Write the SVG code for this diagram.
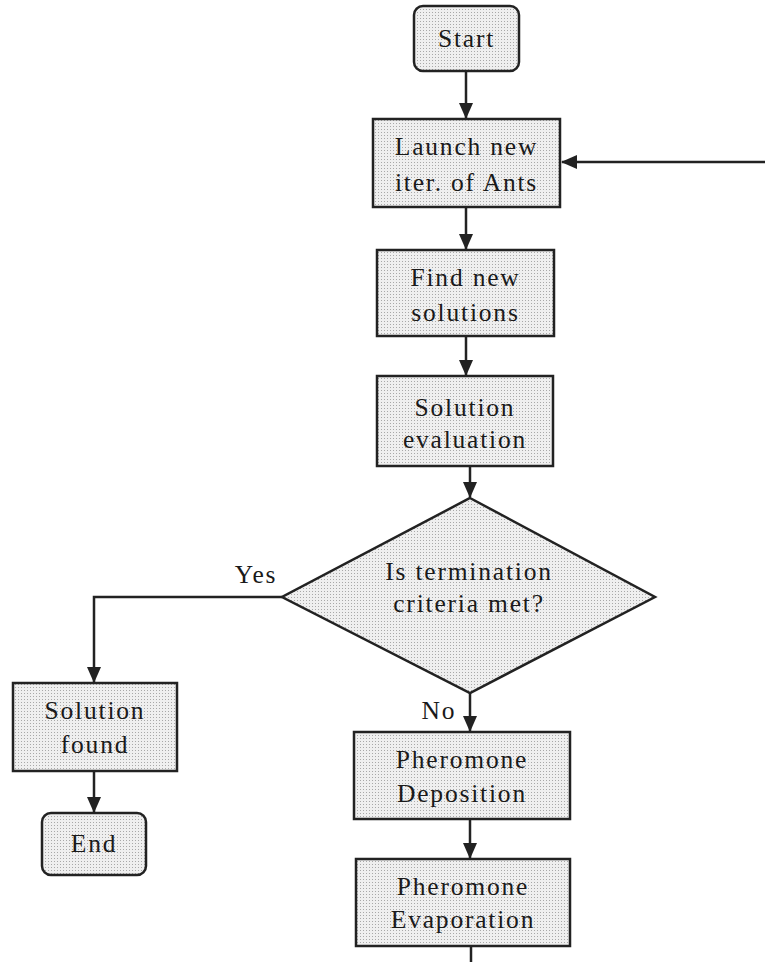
<svg xmlns="http://www.w3.org/2000/svg" width="765" height="962" viewBox="0 0 765 962" font-family="Liberation Serif, DejaVu Serif, serif">
<style>
.box{fill:url(#dots);stroke:#222;stroke-width:2.5}
.t{font-size:25.5px;fill:#1a1a1a;text-anchor:middle;letter-spacing:1.8px}
.c{fill:none;stroke:#222;stroke-width:2.5}
</style>
<defs>
<pattern id="dots" width="3" height="3" patternUnits="userSpaceOnUse">
<rect width="3" height="3" fill="#efefef"/>
<rect width="1" height="1" fill="#a8a8a8"/>
</pattern>
<marker id="ah" markerUnits="userSpaceOnUse" markerWidth="16" markerHeight="14" refX="15" refY="7" orient="auto">
<path d="M0,0 L16,7 L0,14 Z" fill="#222"/>
</marker>
</defs>
<rect width="765" height="962" fill="#fff"/>
<g id="connectors">
<line class="c" x1="466" y1="72" x2="466" y2="118" marker-end="url(#ah)"/>
<line class="c" x1="765" y1="162" x2="562" y2="162" marker-end="url(#ah)"/>
<line class="c" x1="466" y1="208" x2="466" y2="249" marker-end="url(#ah)"/>
<line class="c" x1="466" y1="337" x2="466" y2="375" marker-end="url(#ah)"/>
<line class="c" x1="470" y1="467" x2="470" y2="497" marker-end="url(#ah)"/>
<polyline class="c" points="282,597 94,597 94,682" marker-end="url(#ah)"/>
<line class="c" x1="94" y1="772" x2="94" y2="812" marker-end="url(#ah)"/>
<line class="c" x1="470" y1="693" x2="470" y2="731" marker-end="url(#ah)"/>
<line class="c" x1="470" y1="820" x2="470" y2="858" marker-end="url(#ah)"/>
<line class="c" x1="471" y1="947" x2="471" y2="962"/>
<text class="t" x="256" y="583">Yes</text>
<text class="t" x="439" y="719">No</text>
</g>
<g id="start">
<rect class="box" x="414" y="6" width="105" height="65" rx="9"/>
<text class="t" x="466.5" y="47">Start</text>
</g>
<g id="launch">
<rect class="box" x="373" y="119" width="187" height="88"/>
<text class="t" x="466.5" y="155">Launch new</text>
<text class="t" x="466.5" y="191">iter. of Ants</text>
</g>
<g id="find">
<rect class="box" x="377" y="250" width="177" height="86"/>
<text class="t" x="465.5" y="286">Find new</text>
<text class="t" x="465.5" y="321">solutions</text>
</g>
<g id="evaluation">
<rect class="box" x="377" y="376" width="176" height="90"/>
<text class="t" x="465" y="416">Solution</text>
<text class="t" x="465" y="448">evaluation</text>
</g>
<g id="decision">
<polygon class="box" points="470,498 655,597 470,693 282,597"/>
<text class="t" x="469" y="580">Is termination</text>
<text class="t" x="469" y="612">criteria met?</text>
</g>
<g id="found">
<rect class="box" x="13" y="683" width="164" height="88"/>
<text class="t" x="95" y="719">Solution</text>
<text class="t" x="95" y="753">found</text>
</g>
<g id="end">
<rect class="box" x="42" y="813" width="104" height="62" rx="9"/>
<text class="t" x="94" y="852">End</text>
</g>
<g id="deposition">
<rect class="box" x="354" y="732" width="216" height="87"/>
<text class="t" x="462" y="768">Pheromone</text>
<text class="t" x="462" y="802">Deposition</text>
</g>
<g id="evaporation">
<rect class="box" x="356" y="859" width="214" height="87"/>
<text class="t" x="463" y="895">Pheromone</text>
<text class="t" x="463" y="928">Evaporation</text>
</g>
</svg>
